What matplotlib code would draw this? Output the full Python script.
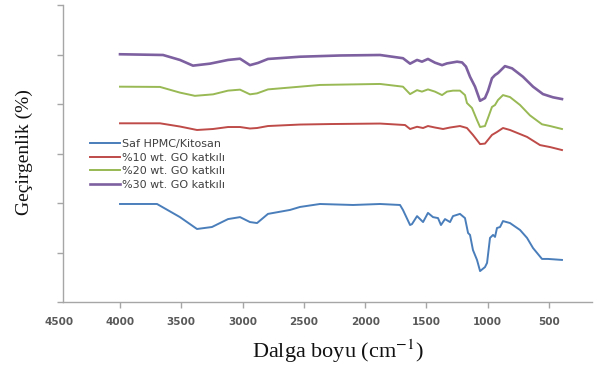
import matplotlib
matplotlib.use("Agg")
import matplotlib.pyplot as plt

# ---- data (wavenumber cm-1, transmittance units) ----
labels = ["Saf HPMC/Kitosan", "%10 wt. GO katkılı", "%20 wt. GO katkılı", "%30 wt. GO katkılı"]

x_saf = [4000, 3698, 3511, 3372, 3250, 3119, 3021, 2940, 2882, 2793,
         2613, 2532, 2369, 2099, 1879, 1716, 1692, 1634, 1618, 1577,
         1528, 1488, 1447, 1406, 1382, 1349, 1308, 1284, 1227, 1186,
         1161, 1145, 1121, 1088, 1063, 1023, 1006, 982, 957, 941,
         925, 900, 876, 819, 737, 680, 631, 558, 509, 395]
y_saf = [39.6, 39.6, 34.3, 29.5, 30.3, 33.5, 34.3, 32.3, 31.9, 35.6,
         37.2, 38.4, 39.6, 39.2, 39.6, 39.2, 37.2, 31.1, 31.5, 34.7,
         32.3, 36.0, 34.3, 33.9, 31.1, 33.5, 32.3, 34.7, 35.6, 33.9,
         27.9, 27.1, 21.0, 17.0, 12.5, 14.1, 15.8, 25.9, 27.1, 26.3,
         29.9, 30.3, 32.7, 31.9, 29.1, 25.9, 21.8, 17.4, 17.4, 17.0]

x_go10 = [4000, 3674, 3511, 3372, 3241, 3119, 3021, 2940, 2882, 2793,
          2532, 2287, 1879, 1675, 1634, 1577, 1528, 1488, 1431, 1365,
          1308, 1227, 1170, 1121, 1063, 1023, 966, 925, 876, 819,
          680, 574, 492, 395]
y_go10 = [72.2, 72.2, 70.9, 69.5, 69.9, 70.7, 70.7, 70.1, 70.3, 71.1,
          71.7, 71.9, 72.1, 71.5, 69.9, 70.8, 70.3, 71.1, 70.5, 69.9,
          70.5, 71.1, 70.3, 67.5, 63.8, 64.0, 67.5, 68.7, 70.3, 69.5,
          66.7, 63.4, 62.6, 61.4]

x_go20 = [4000, 3674, 3511, 3389, 3241, 3119, 3021, 2940, 2882, 2793,
          2532, 2369, 1879, 1692, 1634, 1577, 1537, 1488, 1431, 1373,
          1333, 1284, 1227, 1186, 1170, 1129, 1088, 1063, 1023, 998,
          966, 941, 917, 876, 819, 737, 656, 558, 492, 395]
y_go20 = [87.0, 86.9, 84.6, 83.3, 83.9, 85.4, 85.8, 83.9, 84.3, 85.9,
          87.0, 87.7, 88.1, 87.0, 84.0, 85.6, 85.0, 85.9, 85.0, 83.6,
          85.0, 85.4, 85.4, 83.6, 80.4, 78.4, 73.5, 70.7, 71.1, 74.4,
          78.8, 79.6, 81.6, 83.6, 82.8, 79.6, 75.4, 71.8, 71.1, 69.9]

x_go30 = [4000, 3649, 3511, 3405, 3266, 3119, 3021, 2940, 2874, 2793,
          2532, 2205, 1879, 1692, 1634, 1577, 1537, 1488, 1431, 1373,
          1333, 1251, 1210, 1178, 1145, 1104, 1063, 1023, 998, 966,
          941, 917, 860, 802, 713, 631, 550, 468, 395]
y_go30 = [100.1, 99.8, 97.8, 95.5, 96.3, 97.8, 98.3, 95.7, 96.6, 98.2,
          99.1, 99.6, 99.8, 98.5, 96.3, 97.8, 97.1, 98.2, 96.7, 95.7,
          96.4, 97.1, 96.8, 95.1, 91.0, 87.0, 81.3, 82.4, 85.3, 90.4,
          91.7, 92.5, 95.3, 94.4, 91.0, 87.0, 84.0, 82.7, 82.0]

x_ticks = [4000, 3500, 3000, 2500, 2000, 1500, 1000, 500]
x_first_label = 4500
y_ticks = [0, 20, 40, 60, 80, 100, 120]

colors = ["#4a7ebb", "#be4b48", "#98b954", "#7d60a0"]

plt.rcParams['mathtext.fontset'] = 'stix'

W, H = 606, 367
fig = plt.figure(figsize=(W / 100, H / 100), dpi=100)
ax = fig.add_axes([63 / W, 1 - 302 / H, (592 - 63) / W, (302 - 5) / H])

series = [(x_saf, y_saf), (x_go10, y_go10), (x_go20, y_go20), (x_go30, y_go30)]
widths = [1.4, 1.4, 1.4, 1.9]
for (xs, ys), c, lab, lw in zip(series, colors, labels, widths):
    ax.plot(xs, ys, color=c, lw=lw, label=lab, solid_joinstyle='round')

ax.set_xlim(4465, 150)
ax.set_ylim(0, 120)
ax.set_xticks(x_ticks)
ax.set_xticklabels([str(t) for t in x_ticks])
ax.set_yticks(y_ticks)
ax.set_yticklabels([])

tick_len, tick_pad = 4, 7
for s in ['top', 'right']:
    ax.spines[s].set_visible(False)
for s in ['left', 'bottom']:
    ax.spines[s].set_color('#a6a6a6')
    ax.spines[s].set_linewidth(1.0)
ax.tick_params(axis='both', colors='#a6a6a6', length=tick_len, width=1.0, direction='out')
ax.tick_params(axis='x', labelcolor='#595959', labelsize=7.5, pad=tick_pad)
for lbl in ax.get_xticklabels():
    lbl.set_fontweight('bold')

# the 4500 label sits just left of the axis origin (outside the plotted range)
ax.annotate(str(x_first_label), xy=(x_first_label, 0), xycoords=ax.get_xaxis_transform(),
            xytext=(0, -(tick_len + tick_pad)), textcoords='offset points',
            ha='center', va='top', fontsize=7.5, fontweight='bold', color='#595959',
            annotation_clip=False)

leg = ax.legend(loc='upper left', bbox_to_anchor=(90 / W, 1 - 139 / H),
                bbox_transform=fig.transFigure, frameon=False, fontsize=8,
                handlelength=2.7, handletextpad=0.15, labelspacing=0.33,
                borderpad=0, borderaxespad=0)
for t in leg.get_texts():
    t.set_color('#404040')

fig.text(24 / W, 1 - 152 / H, "Geçirgenlik (%)", rotation=90, ha='center', va='center',
         family='Liberation Serif', fontsize=14, color='#111111')
fig.text(338 / W, 1 - 351 / H, "Dalga boyu (cm$^{-1}$)", ha='center', va='center',
         family='Liberation Serif', fontsize=16, color='#111111')

fig.savefig("out.png", dpi=100)
